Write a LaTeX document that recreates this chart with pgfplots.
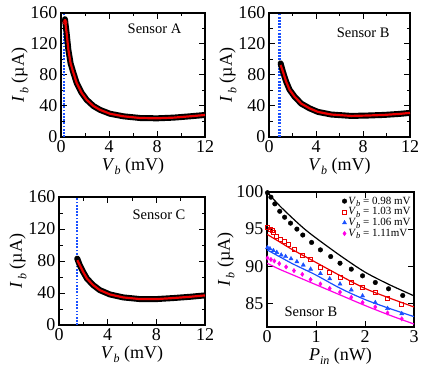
\documentclass[border=0pt]{standalone}
\usepackage{fontspec}
\setmainfont{Liberation Serif}
\usepackage{pgfplots}
\pgfplotsset{compat=1.18}

\definecolor{dotblue}{RGB}{25,80,255}
\definecolor{fitred}{RGB}{235,0,0}
\definecolor{mag}{RGB}{255,0,230}

\newcommand{\Ib}{\textit{I}\hspace{1.5pt}\raisebox{-0.55ex}{\fontsize{12}{12}\selectfont\textit{b}} (µA)}
\newcommand{\Vb}{\textit{V}\raisebox{-0.55ex}{\fontsize{12}{12}\selectfont\textit{b}} (mV)}

\pgfplotsset{
  panel/.style={
    scale only axis,
    anchor=north west,
    /pgf/number format/assume math mode=true,
    tick label style={font=\fontsize{18}{18}\selectfont},
    label style={font=\fontsize{18}{18}\selectfont},
    axis line style={line width=1.1pt},
    tick style={line width=1pt, black},
    major tick length=6pt,
    minor tick length=3.5pt,
    clip=true,
  },
  sweep/.style={
    panel,
    xmin=0, xmax=12, ymin=0, ymax=160,
    xtick={0,4,8,12}, ytick={0,40,80,120,160},
    minor tick num=1,
    xlabel={\Vb}, ylabel={\Ib},
    xlabel style={yshift=2pt},
    ylabel style={yshift=-5pt},
  },
  band/.style={black, line width=6pt, line join=round, line cap=round},
  fit/.style={fitred, line width=2.2pt, line join=round},
  vline/.style={dotblue, line width=2.4pt, dash pattern=on 1.7pt off 1.5pt},
}

\begin{document}
\begin{tikzpicture}
\path[use as bounding box] (0,0) rectangle (436pt,-374pt);

% Sensor A
\begin{axis}[sweep, at={(61pt,-13pt)}, width=144pt, height=124pt]
\addplot[vline] coordinates {(0.27,0) (0.27,160)};
\addplot[band] coordinates {(0.33,152) (0.47,134) (0.61,113) (0.8,95) (1.03,83) (1.3,70) (1.72,57) (2.14,48) (2.7,40) (3.25,35) (4.08,30) (5.2,26.7) (6.6,24.5) (8.0,24.1) (9.4,25) (10.75,26.7) (12,28.4)};
\addplot[fit] coordinates {(0.33,152) (0.47,134) (0.61,113) (0.8,95) (1.03,83) (1.3,70) (1.72,57) (2.14,48) (2.7,40) (3.25,35) (4.08,30) (5.2,26.7) (6.6,24.5) (8.0,24.1) (9.4,25) (10.75,26.7) (12,28.4)};
\addplot[only marks, mark=o, mark size=2pt, fitred, thick] coordinates {(0.33,148)};
\node[anchor=east, font=\fontsize{14.5}{14.5}\selectfont] at (rel axis cs:0.86,0.87) {Sensor A};
\end{axis}

% Sensor B
\begin{axis}[sweep, at={(269pt,-13pt)}, width=141pt, height=124pt]
\addplot[vline] coordinates {(0.9,0) (0.9,160)};
\addplot[band] coordinates {(0.99,95) (1.19,84) (1.47,71) (1.75,61) (2.18,52) (2.75,43) (3.45,37) (4.16,32.4) (5.3,29) (7.0,27.2) (8.4,27.7) (9.8,28.5) (11.1,29.8) (12,31.1)};
\addplot[fit] coordinates {(0.99,93) (1.19,84) (1.47,71) (1.75,61) (2.18,52) (2.75,43) (3.45,37) (4.16,32.4) (5.3,29) (7.0,27.2) (8.4,27.7) (9.8,28.5) (11.1,29.8) (12,31.1)};
\node[anchor=east, font=\fontsize{14.5}{14.5}\selectfont] at (rel axis cs:0.88,0.84) {Sensor B};
\end{axis}

% Sensor C
\begin{axis}[sweep, at={(59pt,-197pt)}, width=146pt, height=128pt]
\addplot[vline] coordinates {(1.48,0) (1.48,160)};
\addplot[band] coordinates {(1.5,83) (1.7,75) (1.98,66.5) (2.3,58) (2.8,50) (3.35,43.6) (4.18,38.2) (5.27,34.5) (6.65,32.4) (8.0,32.4) (9.4,33.7) (10.8,35.3) (12,37)};
\addplot[fit] coordinates {(1.5,81) (1.7,75) (1.98,66.5) (2.3,58) (2.8,50) (3.35,43.6) (4.18,38.2) (5.27,34.5) (6.65,32.4) (8.0,32.4) (9.4,33.7) (10.8,35.3) (12,37)};
\node[anchor=east, font=\fontsize{14.5}{14.5}\selectfont] at (rel axis cs:0.89,0.86) {Sensor C};
\end{axis}

% Sensor B, I_b vs P_in
\begin{axis}[panel, at={(267pt,-192pt)}, width=147pt, height=135pt,
  xmin=0, xmax=3, ymin=81.8, ymax=100,
  xtick={0,1,2,3}, ytick={85,90,95,100},
  xlabel={\textit{P}\raisebox{-0.55ex}{\fontsize{12}{12}\selectfont\textit{in}} (nW)},
  ylabel={\Ib},
  xlabel style={yshift=2pt},
  ylabel style={yshift=-5pt},
  legend cell align=left,
  legend style={draw=none, fill=none, at={(0.995,0.985)}, anchor=north east,
    font=\fontsize{11}{11}\selectfont, row sep=-1pt, inner sep=1pt,
    nodes={inner sep=1.5pt}},
]
\addplot[only marks, mark=*, mark size=2.3pt, black] coordinates {(0.01,99.9) (0.08,99.3) (0.16,98.4) (0.26,97.4) (0.36,96.6) (0.48,95.8) (0.61,95.0) (0.73,94.2) (0.91,93.2) (1.09,92.2) (1.3,91.3) (1.49,90.4) (1.72,89.6) (1.95,88.7) (2.21,87.8) (2.48,86.95) (2.77,86.05)};
\addlegendentry{\textit{V}\raisebox{-0.5ex}{\fontsize{8.5}{8.5}\selectfont\textit{b}} = 0.98 mV}
\addplot[only marks, mark=square, mark size=2pt, fitred, thick] coordinates {(0.01,95.2) (0.06,95.0) (0.1,94.8) (0.14,94.5) (0.2,94.0) (0.27,93.65) (0.35,93.3) (0.44,92.9) (0.55,92.2) (0.72,91.5) (0.89,90.9) (1.08,89.9) (1.28,89.2) (1.49,88.5) (1.72,87.85) (1.95,87.2) (2.21,86.5) (2.46,85.6) (2.75,84.8)};
\addlegendentry{\textit{V}\raisebox{-0.5ex}{\fontsize{8.5}{8.5}\selectfont\textit{b}} = 1.03 mV}
\addplot[only marks, mark=triangle*, mark size=2.4pt, dotblue] coordinates {(0.01,92.5) (0.06,92.35) (0.13,92.1) (0.2,91.85) (0.29,91.5) (0.38,91.3) (0.49,91.0) (0.61,90.6) (0.74,90.15) (0.89,89.6) (1.09,89.0) (1.28,88.3) (1.49,87.6) (1.72,86.8) (1.95,86.0) (2.21,85.1) (2.46,84.3) (2.75,83.6)};
\addlegendentry{\textit{V}\raisebox{-0.5ex}{\fontsize{8.5}{8.5}\selectfont\textit{b}} = 1.06 mV}
\addplot[only marks, mark=diamond*, mark size=2.2pt, mag] coordinates {(0.01,91.1) (0.08,90.9) (0.15,90.7) (0.25,90.35) (0.39,89.9) (0.55,89.4) (0.72,88.9) (0.89,88.2) (1.09,87.6) (1.28,87.0) (1.49,86.5) (1.72,85.8) (1.95,85.1) (2.21,84.5) (2.46,83.7) (2.75,82.9)};
\addlegendentry{\textit{V}\raisebox{-0.5ex}{\fontsize{8.5}{8.5}\selectfont\textit{b}} = 1.11mV}
\addplot[black, line width=1.2pt, smooth, forget plot] coordinates {(0,100) (0.25,98.2) (0.5,96.6) (0.75,95.1) (1,93.8) (1.5,91.4) (2,89.2) (2.5,87.5) (3,86.0)};
\addplot[fitred, line width=1.2pt, smooth, forget plot] coordinates {(0,94.3) (0.25,93.3) (0.5,92.3) (0.75,91.4) (1,90.5) (1.5,88.7) (2,87.0) (2.5,85.7) (3,84.5)};
\addplot[dotblue, line width=1.2pt, smooth, forget plot] coordinates {(0,92.2) (0.25,91.3) (0.5,90.4) (0.75,89.6) (1,88.8) (1.5,87.0) (2,85.5) (2.5,84.3) (3,83.2)};
\addplot[mag, line width=1.2pt, smooth, forget plot] coordinates {(0,90.4) (0.25,89.6) (0.5,88.9) (0.75,88.2) (1,87.5) (1.5,86.1) (2,84.7) (2.5,83.4) (3,82.2)};
\node[anchor=west, font=\fontsize{14.5}{14.5}\selectfont] at (rel axis cs:0.095,0.11) {Sensor B};
\end{axis}
\end{tikzpicture}
\end{document}
